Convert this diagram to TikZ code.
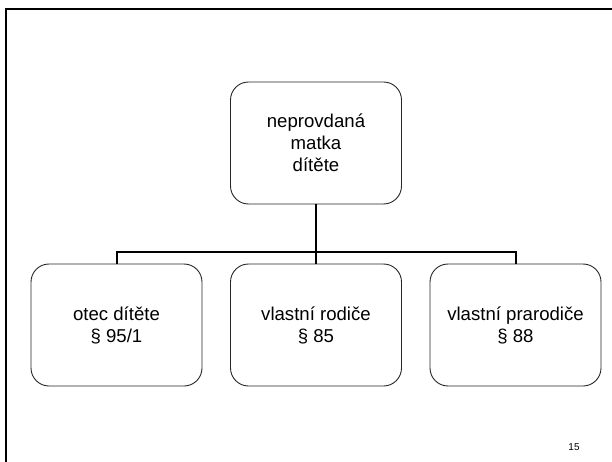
\documentclass[tikz,border=0pt]{standalone}
\usepackage{fontspec}
\setmainfont{Liberation Sans}
\usepackage{tikz}
\usetikzlibrary{positioning,calc}

\tikzset{
    box/.style={draw=black!85, line width=0.9pt, rounded corners=18pt,
        minimum width=171pt, minimum height=122pt, align=center,
        font=\fontsize{18.6}{22}\selectfont},
    link/.style={draw=black, line width=2pt}
}

\begin{document}
\begin{tikzpicture}[x=1pt,y=-1pt]
    \useasboundingbox (0,0) rectangle (612,462);

    % Slide frame
    \draw[line width=2.6pt] (612,9) -- (6,9) -- (6,462);

    % Top box
    \node[box] (matka) at (316,143) {neprovdaná\\matka\\dítěte};

    % Lower row
    \node[box] (otec) at (116.5,325) {otec dítěte\\§ 95/1};
    \node[box] (rodice) at (316,325) {vlastní rodiče\\§ 85};
    \node[box] (prarodice) at (515.5,325) {vlastní prarodiče\\§ 88};

    % Connectors
    \coordinate (bus) at (316,252);
    \draw[link] (matka.south) -- (bus);
    \draw[link] (otec.north) |- (bus) -| (prarodice.north);
    \draw[link] (bus) -- (rodice.north);

    % Page number
    \node[font=\fontsize{10}{12}\selectfont] (page) at (574,447) {15};
\end{tikzpicture}
\end{document}
